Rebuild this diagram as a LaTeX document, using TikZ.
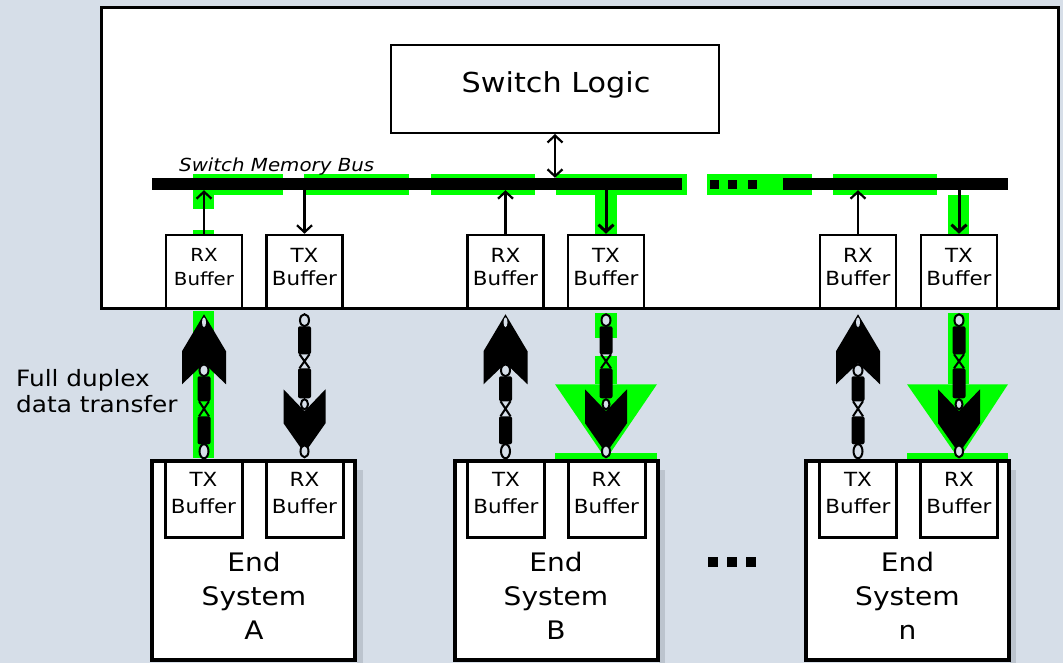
\documentclass[tikz,border=0pt]{standalone}
\usepackage{fontspec}
\setmainfont{DejaVu Sans}[FakeStretch=1.1]
\usetikzlibrary{arrows.meta,calc}
\definecolor{bg}{RGB}{214,222,232}
\definecolor{hl}{RGB}{0,255,0}
\definecolor{shadowc}{RGB}{188,196,206}
\tikzset{
  box/.style={draw=black, fill=white, inner sep=0pt},
  sbuf/.style={box, line width=2.5pt, minimum width=76pt, minimum height=73pt},
  ebuf/.style={box, line width=3pt, minimum width=77pt, minimum height=76pt},
  endbox/.style={box, line width=4pt, minimum width=203pt, minimum height=199pt},
  busbar/.style={fill=black, inner sep=0pt, minimum height=12pt},
  sq/.style={fill=black, inner sep=0pt, minimum size=9pt},
  arr/.style={line width=2.2pt, -{Straight Barb[length=7pt,width=15pt]}},
  arrb/.style={line width=2.2pt, {Straight Barb[length=7pt,width=15pt]}-{Straight Barb[length=7pt,width=15pt]}},
  ring/.style={draw=black, line width=2pt, fill=bg},
  buftext/.style={inner sep=0pt, align=center, font=\fontsize{19.5}{23.5}\selectfont},
  ebuftext/.style={inner sep=0pt, align=center, font=\fontsize{19.5}{27}\selectfont},
  endtext/.style={inner sep=0pt, align=center, font=\fontsize{25.5}{34}\selectfont},
}
\newcommand\upchain[1]{%
  \begin{scope}[shift={(#1)}]
    \fill (0,5) -- (-22,42) -- (-22,75) -- (0,54) -- (22,75) -- (22,42) -- cycle;
    \fill[bg] (0,13) ellipse [x radius=2pt, y radius=5pt];
    \draw[ring] (0,61) ellipse [x radius=4.5pt, y radius=6pt];
    \fill[rounded corners=2pt] (-6.5,67) rectangle (6.5,92);
    \draw[line width=2pt] (-5,92) -- (5,107) (5,92) -- (-5,107);
    \fill[rounded corners=2pt] (-6.5,107) rectangle (6.5,135);
    \draw[ring] (0,142) ellipse [x radius=4.5pt, y radius=7pt];
  \end{scope}}
\newcommand\downchain[1]{%
  \begin{scope}[shift={(#1)}]
    \draw[ring] (0,11) ellipse [x radius=4.5pt, y radius=6pt];
    \fill[rounded corners=2pt] (-6.5,17) rectangle (6.5,45);
    \draw[line width=2pt] (-5,45) -- (5,59) (5,45) -- (-5,59);
    \fill[rounded corners=2pt] (-6.5,59) rectangle (6.5,89);
    \fill (-21,80) -- (0,102) -- (21,80) -- (21,114) -- (0,144) -- (-21,114) -- cycle;
    \draw[ring] (0,95) ellipse [x radius=3.5pt, y radius=5pt];
    \draw[ring] (0,142) ellipse [x radius=4pt, y radius=6pt];
  \end{scope}}
\begin{document}
\begin{tikzpicture}[x=1pt,y=-1pt]
\useasboundingbox (0,0) rectangle (1063,663);
\fill[bg] (0,0) rectangle (1063,663);

% switch
\node[box, line width=3pt, minimum width=957pt, minimum height=300pt] (switch) at (579.5,158) {};

% green highlight along the bus
\foreach \a/\b in {193/283,304/409,431/535,556/687,707/812,833/937}
  \fill[hl] (\a,174) rectangle (\b,195);
\fill[hl] (193,195) rectangle (214,209);
\fill[hl] (193,230) rectangle (214,235);
\fill[hl] (595,195) rectangle (617,235);
\fill[hl] (948,195) rectangle (969,235);

% bus
\node[busbar, minimum width=530pt] (bus1) at (417,184) {};
\node[busbar, minimum width=225pt] (bus2) at (895.5,184) {};
\node[sq] (bd1) at (714,185) {};
\node[sq] (bd2) at (732.5,185) {};
\node[sq] (bd3) at (752.5,185) {};
\node[inner sep=0pt, anchor=base west, font=\fontsize{18}{22}\selectfont\itshape] (busT) at (179,172) {Switch Memory Bus};

% switch logic
\node[box, line width=2pt, minimum width=328pt, minimum height=88pt] (logic) at (555,89) {};
\node[inner sep=0pt, anchor=base, font=\fontsize{27.5}{33}\selectfont] (logicT) at (556,93) {Switch Logic};

% switch buffers
\node[sbuf] (rxA) at (204,271.5) {};
\node[sbuf] (txA) at (304.5,271.5) {};
\node[sbuf] (rxB) at (505.5,271.5) {};
\node[sbuf] (txB) at (606,271.5) {};
\node[sbuf] (rxN) at (858,271.5) {};
\node[sbuf] (txN) at (959,271.5) {};
\node[buftext, font=\fontsize{18}{23.5}\selectfont] (rxAT) at (204,267) {RX\\Buffer};
\node[buftext] (txAT) at (304.5,267) {TX\\Buffer};
\node[buftext] (rxBT) at (505.5,267) {RX\\Buffer};
\node[buftext] (txBT) at (606,267) {TX\\Buffer};
\node[buftext] (rxNT) at (858,267) {RX\\Buffer};
\node[buftext] (txNT) at (959,267) {TX\\Buffer};

% arrows to/from the bus
\draw[arr] (rxA.north) -- (rxA.north |- bus1.south);
\draw[arr] (txA.north |- bus1.south) -- (txA.north);
\draw[arr] (rxB.north) -- (rxB.north |- bus1.south);
\draw[arr, line width=3pt] (txB.north |- bus1.south) -- (txB.north);
\draw[arr] (rxN.north) -- (rxN.north |- bus2.south);
\draw[arr, line width=3pt] (txN.north |- bus2.south) -- (txN.north);
\draw[arrb] (logic.south) -- (logic.south |- bus1.north);

% green highlight of the links
\begin{scope}[shift={(rxA.south)}]
  \fill[hl] (-11,2) rectangle (10,149);
\end{scope}
\begin{scope}[shift={(txB.south)}]
  \fill[hl] (-11,4) rectangle (11,29);
  \fill[hl] (-11,47) rectangle (11,75);
  \fill[hl] (-51,75) -- (51,75) -- (0,150) -- cycle;
  \fill[hl] (-51,144) rectangle (51,152);
\end{scope}
\begin{scope}[shift={(txN.south)}]
  \fill[hl] (-11,4) rectangle (10,75);
  \fill[hl] (-52,75) -- (49,75) -- (0,150) -- cycle;
  \fill[hl] (-52,144) rectangle (49,151);
\end{scope}

% full duplex links
\upchain{rxA.south}
\downchain{txA.south}
\upchain{rxB.south}
\downchain{txB.south}
\upchain{rxN.south}
\downchain{txN.south}

\node[inner sep=0pt, anchor=north west, align=left, font=\fontsize{22.5}{26}\selectfont] (fdT) at (16,369) {Full duplex\\data transfer};

% end systems
\fill[shadowc] (357,470) rectangle (363,663);
\fill[shadowc] (659,470) rectangle (665,663);
\fill[shadowc] (1010,470) rectangle (1016,663);
\node[endbox] (endA) at (253.5,560.5) {};
\node[endbox] (endB) at (556,560.5) {};
\node[endbox] (endN) at (907.5,560.5) {};
\node[ebuf] (etxA) at (203.5,499) {};
\node[ebuf] (erxA) at (304.5,499) {};
\node[ebuf] (etxB) at (506,499) {};
\node[ebuf] (erxB) at (606.5,499) {};
\node[ebuf] (etxN) at (858,499) {};
\node[ebuf] (erxN) at (959,499) {};
\node[ebuftext] (etxAT) at (203.5,493.5) {TX\\Buffer};
\node[ebuftext] (erxAT) at (304.5,493.5) {RX\\Buffer};
\node[ebuftext] (etxBT) at (506,493.5) {TX\\Buffer};
\node[ebuftext] (erxBT) at (606.5,493.5) {RX\\Buffer};
\node[ebuftext] (etxNT) at (858,493.5) {TX\\Buffer};
\node[ebuftext] (erxNT) at (959,493.5) {RX\\Buffer};
\node[endtext] (endAT) at (254,596) {End\\System\\A};
\node[endtext] (endBT) at (556,596) {End\\System\\B};
\node[endtext] (endNT) at (907.5,596) {End\\System\\n};

% dots between end systems
\node[sq, minimum size=10pt] (ed1) at (713,562) {};
\node[sq, minimum size=10pt] (ed2) at (732,562) {};
\node[sq, minimum size=10pt] (ed3) at (751,562) {};
\end{tikzpicture}
\end{document}
